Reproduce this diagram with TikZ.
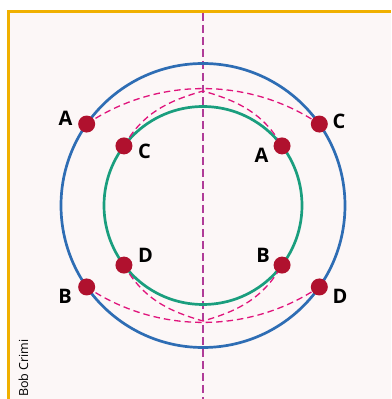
\documentclass[tikz,border=0pt]{standalone}
\usepackage{fontspec}
\setmainfont{Open Sans}
\usetikzlibrary{calc}
\definecolor{bgc}{HTML}{FCF7F7}
\definecolor{framec}{HTML}{F0B000}
\definecolor{bluec}{HTML}{2E6DB4}
\definecolor{greenc}{HTML}{1A9E7E}
\definecolor{dotc}{HTML}{B0112E}
\definecolor{arcc}{HTML}{E0147C}
\definecolor{axisc}{HTML}{B03C98}
\pgfdeclarelayer{bg}
\pgfdeclarelayer{lines}
\pgfsetlayers{bg,lines,main}
\tikzset{
  dotnode/.style={circle,fill=dotc,inner sep=0pt,minimum size=17pt},
  lab/.style={font=\fontsize{20}{20}\selectfont\bfseries,inner sep=0pt},
  dasharc/.style={draw=arcc,line width=1.3pt,dash pattern=on 6.5pt off 4pt},
  axisline/.style={draw=axisc,line width=1.2pt,dash pattern=on 8pt off 4pt},
  ring/.style={line width=2.7pt}
}
\begin{document}
\begin{tikzpicture}[x=1pt,y=1pt]
\useasboundingbox (0,0) rectangle (391,399);
\coordinate (c) at (203,193.5);
% dots
\node[dotnode] (oA) at ($(c)+(145:142)$) {};
\node[dotnode] (oC) at ($(c)+(35:142)$) {};
\node[dotnode] (oB) at ($(c)+(215:142)$) {};
\node[dotnode] (oD) at ($(c)+(325:142)$) {};
\node[dotnode] (iC) at ($(c)+(143:99)$) {};
\node[dotnode] (iA) at ($(c)+(37:99)$) {};
\node[dotnode] (iD) at ($(c)+(217:99)$) {};
\node[dotnode] (iB) at ($(c)+(323:99)$) {};
% labels
\node[lab] (loA) at (65.5,280.5) {A};
\node[lab] (loC) at (339,278) {C};
\node[lab] (liC) at (144.5,247.5) {C};
\node[lab] (liA) at (261.5,243.5) {A};
\node[lab] (liD) at (145.5,144) {D};
\node[lab] (liB) at (263,144) {B};
\node[lab] (loB) at (65,103) {B};
\node[lab] (loD) at (340,103) {D};
\node[font=\fontsize{12.5}{12.5}\selectfont,rotate=90,inner sep=0pt] (credit) at (23.5,31) {Bob Crimi};
\begin{pgfonlayer}{bg}
  \fill[bgc] (8.7,387.7) rectangle (391,0);
  \draw[framec,line width=3pt] (8.7,0) -- (8.7,387.7) -- (391,387.7);
\end{pgfonlayer}
\begin{pgfonlayer}{lines}
  \coordinate (axtop) at (203,386);
  \coordinate (axbot) at (203,0);
  \coordinate (apexT) at (203,308);
  \coordinate (apexB) at (203,78);
  \draw[axisline] (axtop) -- (axbot);
  \draw[bluec,ring] (c) circle[radius=142pt];
  \draw[greenc,ring] (c) circle[radius=99pt];
  \draw[dasharc] (oA.center) to[bend left=34.1,looseness=0.93] (oC.center);
  \draw[dasharc] (iC.center) to[out=60,in=196] (apexT) to[out=-16,in=120] (iA.center);
  \draw[dasharc] (oB.center) to[bend right=34.1,looseness=0.93] (oD.center);
  \draw[dasharc] (iD.center) to[out=-60,in=164] (apexB) to[out=16,in=240] (iB.center);
\end{pgfonlayer}
\end{tikzpicture}
\end{document}
